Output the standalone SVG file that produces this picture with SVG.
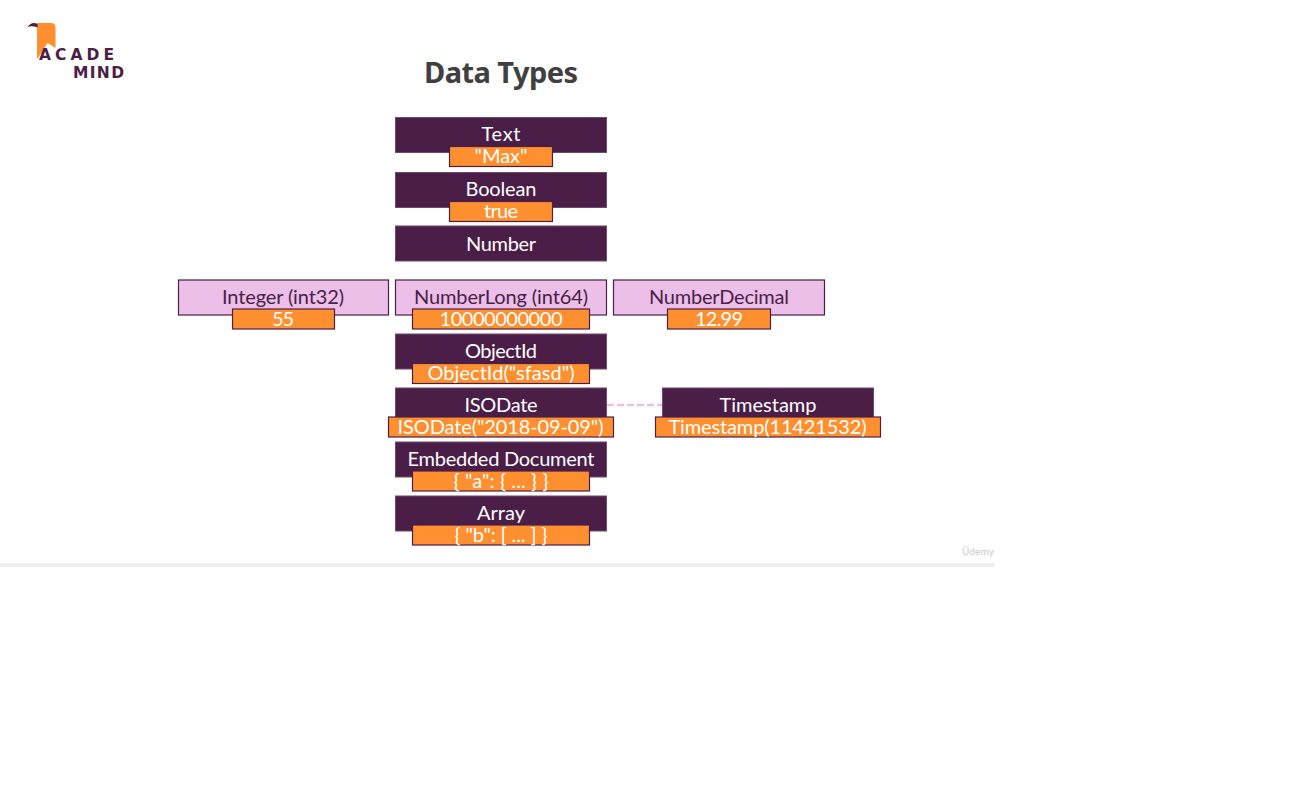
<svg xmlns="http://www.w3.org/2000/svg" width="1308" height="808" viewBox="0 0 1308 808">
<style>
text{font-family:"Lato","Noto Sans",sans-serif;font-size:20px;font-weight:400;text-anchor:middle}
.dark{fill:#4a1e47;stroke:#6f4a6d;stroke-width:1}
.pink{fill:#ecbfe9;stroke:#4a1e47;stroke-width:1.2}
.orange{fill:#ff8f2f;stroke:#4a1e47;stroke-width:1.2}
.w{fill:#fff}.p{fill:#4a1e47}
.title{font-family:"Noto Sans","Open Sans",sans-serif;font-size:29px;font-weight:700;fill:#404040}
.logo{font-family:"DejaVu Sans",sans-serif;font-weight:700;font-size:15.500px;fill:#4a1e47;text-anchor:start}
</style>
<rect width="1308" height="808" fill="#fff"/>
<g id="logo">
<path d="M37 23H51Q55.500 23 55.500 28V48L47.500 43L38 58L37 58Z" fill="#ff8f2f"/>
<path d="M27.500 27Q32 21 37.500 24V27.500Q32 25.500 27.500 27Z" fill="#4a1e47"/>
<text class="logo" x="39" y="59.500" textLength="75">ACADE</text>
<text class="logo" x="73" y="77.500" textLength="51">MIND</text>
</g>
<text class="title" x="501" y="83" textLength="154">Data Types</text>
<g id="connectors">
<line x1="607" y1="405" x2="662" y2="405" stroke="#ecbfe9" stroke-width="2.500" stroke-dasharray="7 3"/>
</g>
<g id="text-node"><rect class="dark" x="395.500" y="117.500" width="211" height="35"/><rect class="orange" x="449.500" y="146.500" width="103" height="20"/><text class="w" x="501" y="141" textLength="39">Text</text><text class="w" x="501" y="163" textLength="53">"Max"</text></g>
<g id="boolean-node"><rect class="dark" x="395.500" y="172.500" width="211" height="35"/><rect class="orange" x="449.500" y="201.500" width="103" height="20"/><text class="w" x="501" y="196" textLength="71">Boolean</text><text class="w" x="501" y="218" textLength="34">true</text></g>
<g id="number-node"><rect class="dark" x="395.500" y="226" width="211" height="35"/><text class="w" x="501" y="250.500" textLength="70">Number</text></g>
<g id="integer-node"><rect class="pink" x="178.500" y="280" width="210" height="35"/><rect class="orange" x="232.500" y="309" width="102" height="20"/><text class="p" x="283" y="304" textLength="122">Integer (int32)</text><text class="w" x="283" y="326" textLength="22">55</text></g>
<g id="numberlong-node"><rect class="pink" x="395.500" y="280" width="211" height="35"/><rect class="orange" x="412.500" y="309" width="177" height="20"/><text class="p" x="501" y="304" textLength="174">NumberLong (int64)</text><text class="w" x="501" y="326" textLength="123">10000000000</text></g>
<g id="numberdecimal-node"><rect class="pink" x="613.500" y="280" width="211" height="35"/><rect class="orange" x="667.500" y="309" width="103" height="20"/><text class="p" x="719" y="304" textLength="140">NumberDecimal</text><text class="w" x="719" y="326" textLength="48">12.99</text></g>
<g id="objectid-node"><rect class="dark" x="395.500" y="334" width="211" height="35"/><rect class="orange" x="412.500" y="363.500" width="177" height="20"/><text class="w" x="501" y="358" textLength="72">ObjectId</text><text class="w" x="501" y="380" textLength="147">ObjectId("sfasd")</text></g>
<g id="isodate-node"><rect class="dark" x="395.500" y="388" width="211" height="35"/><rect class="orange" x="388.500" y="417" width="225" height="20"/><text class="w" x="501" y="412" textLength="73">ISODate</text><text class="w" x="500.500" y="434" textLength="206">ISODate("2018-09-09")</text></g>
<g id="timestamp-node"><rect class="dark" x="662.500" y="388" width="211" height="35"/><rect class="orange" x="655.500" y="417" width="225" height="20"/><text class="w" x="768" y="412" textLength="97">Timestamp</text><text class="w" x="767.500" y="434" textLength="198">Timestamp(11421532)</text></g>
<g id="embedded-node"><rect class="dark" x="395.500" y="442" width="211" height="35"/><rect class="orange" x="412.500" y="471" width="177" height="20"/><text class="w" x="501" y="466" textLength="187">Embedded Document</text><text class="w" x="501" y="488" textLength="95">{ "a": { ... } }</text></g>
<g id="array-node"><rect class="dark" x="395.500" y="496" width="211" height="35"/><rect class="orange" x="412.500" y="525" width="177" height="20"/><text class="w" x="501" y="520" textLength="48">Array</text><text class="w" x="501" y="542" textLength="93">{ "b": [ ... ] }</text></g>
<text x="978" y="555" style="font-size:10px;fill:#e4e4e4;stroke:#ccc;stroke-width:.3" textLength="32">Üdemy</text>
<rect x="0" y="563" width="995" height="4" fill="#efeff1"/>
</svg>
